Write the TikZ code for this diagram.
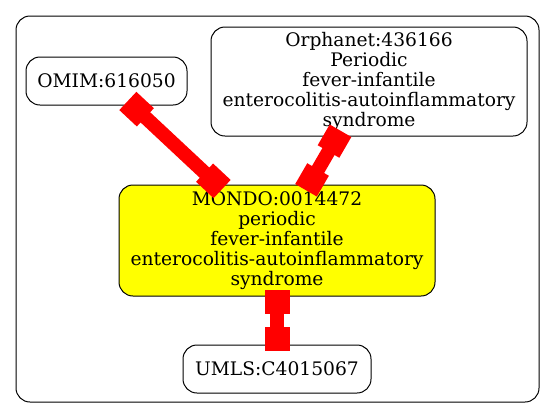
\documentclass[tikz,border=0pt]{standalone}
\usepackage{fontspec}
\setmainfont{DejaVu Serif}
\usepackage{xcolor}
\usetikzlibrary{positioning,arrows.meta}
\definecolor{hilite}{HTML}{FFFF00}

\begin{document}
\begin{tikzpicture}[
    x=0.75pt, y=-0.75pt,
    term/.style={rounded corners=10.5pt, draw=black, line width=0.75pt, fill=white, font=\fontsize{14}{15}\selectfont, align=center, inner sep=2pt},
    every edge/.append style={draw=red, line width=10.5pt, {Square[length=18pt,width=18.75pt]}-{Square[length=18pt,width=18.75pt]}, shorten <=-5pt, shorten >=-5pt}
  ]
  \useasboundingbox (0,0) rectangle (555,419);
  \draw[rounded corners=10.5pt, line width=0.75pt] (16,16) rectangle (539,402);

  \node[term, fill=hilite, minimum width=237pt, minimum height=83.25pt] (mondo) at (277,240.5) {MONDO:0014472\\periodic\\fever-infantile\\enterocolitis-autoinflammatory\\syndrome};
  \node[term, minimum width=120.75pt, minimum height=36pt] (omim) at (106.5,81) {OMIM:616050};
  \node[term, minimum width=237pt, minimum height=81.75pt] (orpha) at (369,81.5) {Orphanet:436166\\Periodic\\fever-infantile\\enterocolitis-autoinflammatory\\syndrome};
  \node[term, below=36pt of mondo, minimum width=141pt, minimum height=36pt] (umls) {UMLS:C4015067};

  \draw (omim) edge (mondo);
  \draw (orpha) edge (mondo);
  \draw (mondo) edge (umls);
\end{tikzpicture}
\end{document}
